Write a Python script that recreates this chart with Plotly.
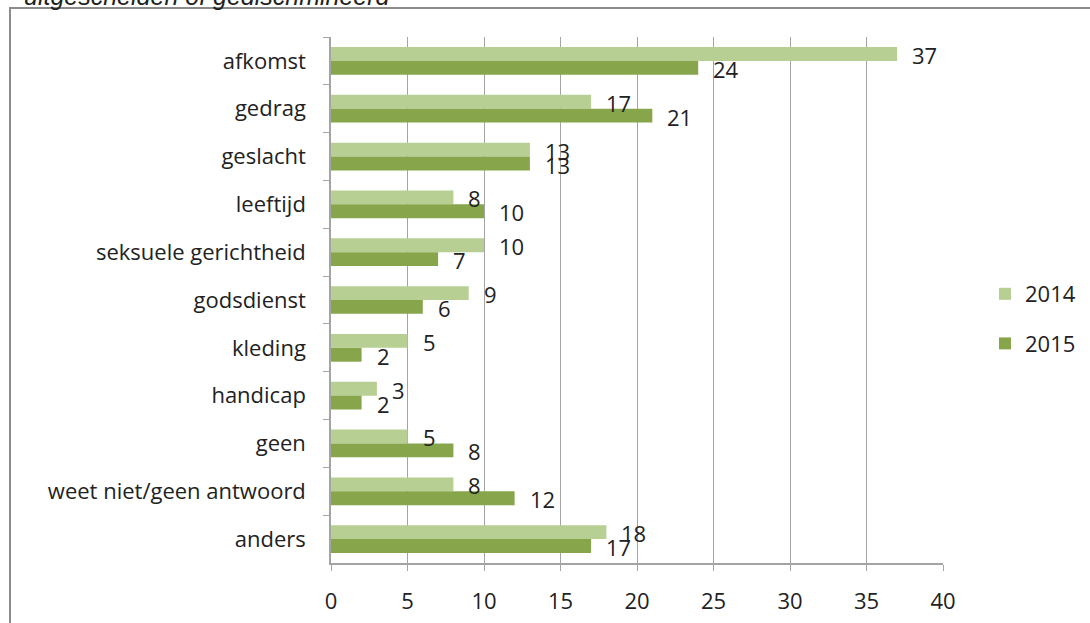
import plotly.graph_objects as go

# Data
categorieen = [
    "afkomst", "gedrag", "geslacht", "leeftijd", "seksuele gerichtheid",
    "godsdienst", "kleding", "handicap", "geen", "weet niet/geen antwoord", "anders",
]
waarden_2014 = [37, 17, 13, 8, 10, 9, 5, 3, 5, 8, 18]
waarden_2015 = [24, 21, 13, 10, 7, 6, 2, 2, 8, 12, 17]
x_ticks = [0, 5, 10, 15, 20, 25, 30, 35, 40]
titel_boven = "uitgescheiden of gediscrimineerd"

# Style
COLOR_2014 = "#b8cf93"
COLOR_2015 = "#87a64b"
COLOR_GRID = "#a4a4a4"
COLOR_TEXT = "#222222"
FONT = "Open Sans"
FS = 22

W, H = 1090, 623
M_L, M_R, M_T, M_B = 331, 147, 37, 60
PW = W - M_L - M_R
PH = H - M_T - M_B


def px_x(p):
    return (p - M_L) / PW


def px_y(p):
    return (H - M_B - p) / PH


fig = go.Figure()
for naam, waarden, kleur in [("2014", waarden_2014, COLOR_2014),
                             ("2015", waarden_2015, COLOR_2015)]:
    fig.add_trace(go.Bar(
        x=waarden,
        y=categorieen,
        orientation="h",
        name=naam,
        legendgroup=naam,
        marker=dict(color=kleur, line=dict(width=0)),
    ))

# Waarde-labels naast de balken
annotaties = []
for cat, v14, v15 in zip(categorieen, waarden_2014, waarden_2015):
    for v, dy in [(v14, 6), (v15, -8)]:
        annotaties.append(dict(
            x=v, y=cat, xref="x", yref="y",
            text=str(v), showarrow=False,
            xanchor="left", yanchor="middle",
            xshift=13, yshift=dy,
            font=dict(family=FONT, size=FS, color=COLOR_TEXT),
        ))

# Afgesneden titel bovenaan
annotaties.append(dict(
    x=px_x(22), y=px_y(-4), xref="paper", yref="paper",
    text=f"<i>{titel_boven}</i>", showarrow=False,
    xanchor="left", yanchor="middle",
    font=dict(family="Liberation Sans", size=25, color=COLOR_TEXT),
))

fig.update_layout(
    width=W, height=H,
    margin=dict(l=M_L, r=M_R, t=M_T, b=M_B, autoexpand=False),
    plot_bgcolor="white",
    paper_bgcolor="white",
    barmode="group",
    bargap=0.42,
    bargroupgap=0,
    font=dict(family=FONT, size=FS, color=COLOR_TEXT),
    annotations=annotaties,
    legend=dict(
        x=px_x(985), y=px_y(319),
        xanchor="left", yanchor="middle",
        font=dict(family=FONT, size=FS, color=COLOR_TEXT),
        tracegroupgap=18,
        itemwidth=30,
    ),
    xaxis=dict(
        range=[0, 40],
        tickvals=x_ticks,
        ticks="outside", ticklen=6, tickcolor=COLOR_GRID,
        showline=True, linecolor=COLOR_GRID, linewidth=1.5,
        showgrid=True, gridcolor=COLOR_GRID, gridwidth=1.2,
        zeroline=False,
        ticklabelstandoff=12,
        tickfont=dict(family=FONT, size=FS, color=COLOR_TEXT),
    ),
    yaxis=dict(
        range=[len(categorieen) - 0.5, -0.5],
        ticks="outside", ticklen=6, tickcolor=COLOR_GRID,
        tickson="boundaries",
        showline=True, linecolor=COLOR_GRID, linewidth=1.5,
        showgrid=False, zeroline=False,
        ticklabelstandoff=19,
        tickfont=dict(family=FONT, size=FS, color=COLOR_TEXT),
    ),
    shapes=[dict(
        type="rect", xref="paper", yref="paper",
        x0=px_x(10), x1=px_x(1200), y0=px_y(700), y1=px_y(8),
        line=dict(color="#8c8c8c", width=2),
        layer="below",
    )],
)

# pagina zonder body-marge, zodat de figuur op (0,0) staat
fig.write_html(
    "out.html",
    config={"displayModeBar": False},
    post_script="document.body.style.margin='0';",
)
